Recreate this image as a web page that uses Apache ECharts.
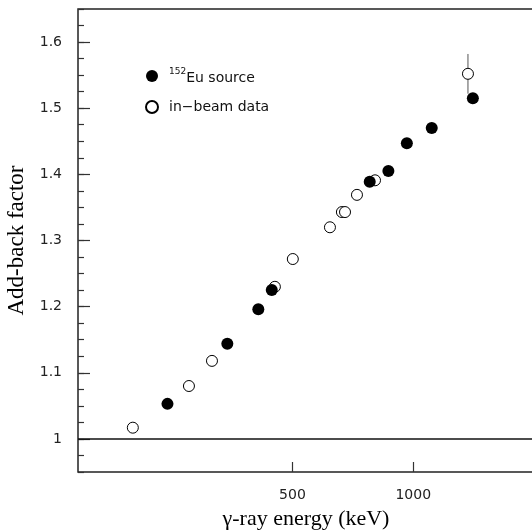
<!DOCTYPE html>
<html>
<head>
<meta charset="utf-8">
<script src="https://cdn.jsdelivr.net/npm/echarts@6/dist/echarts.min.js"></script>
<style>
html, body { margin: 0; padding: 0; background: #fff; }
#main { width: 532px; height: 532px; }
</style>
</head>
<body>
<div id="main"></div>
<script>
// 152Eu source points : energy (keV) and add-back factor
var euEnergy = [244, 344, 411, 444, 779, 867, 964, 1112, 1408];
var euFactor = [1.053, 1.144, 1.196, 1.225, 1.389, 1.405, 1.447, 1.470, 1.515];

// in-beam points
var beamEnergy = [200, 276, 315, 452, 501, 620, 664, 676, 724, 803, 1369];
var beamFactor = [1.017, 1.080, 1.118, 1.230, 1.272, 1.320, 1.343, 1.343, 1.369, 1.391, 1.552];

// error bar (only on the highest in-beam point)
var errEnergy = [1369];
var errLow = [1.522];
var errHigh = [1.582];

var xTicks = [500, 1000];
var yTicks = [1, 1.1, 1.2, 1.3, 1.4, 1.5, 1.6];

var xMin = 146, xMax = 2000;
var yMin = 0.95, yMax = 1.65;

var euName = '152Eu source';
var beamName = 'in\u2212beam data';

function pairs(xs, ys) {
    var out = [];
    for (var i = 0; i < xs.length; i++) {
        out.push([xs[i], ys[i]]);
    }
    return out;
}

var chart = echarts.init(document.getElementById('main'));

var option = {
    animation: false,
    backgroundColor: '#fff',
    grid: {
        left: 78, top: 9, width: 456, height: 463,
        show: true, borderColor: '#222', borderWidth: 1.5,
        containLabel: false, outerBoundsMode: 'none'
    },
    legend: {
        orient: 'vertical',
        left: 140, top: 62,
        itemWidth: 12, itemHeight: 12,
        itemGap: 15,
        selectedMode: false,
        data: [{ name: euName, icon: 'circle' }, { name: beamName, icon: 'circle' }],
        formatter: function (name) {
            if (name === euName) return '{sup|152}{txt|Eu source}';
            return '{pad|' + name + '}';
        },
        textStyle: {
            fontFamily: 'DejaVu Sans', fontSize: 14, color: '#111',
            rich: {
                sup: { fontFamily: 'DejaVu Sans', fontSize: 9, color: '#111', padding: [0, 0, 0, 6], verticalAlign: 'top', lineHeight: 18 },
                txt: { fontFamily: 'DejaVu Sans', fontSize: 14, color: '#111', verticalAlign: 'bottom', lineHeight: 18 },
                pad: { fontFamily: 'DejaVu Sans', fontSize: 14, color: '#111', padding: [0, 0, 0, 6], lineHeight: 18 }
            }
        }
    },
    xAxis: [
        {
            type: 'log', logBase: 10, min: xMin, max: xMax,
            position: 'bottom',
            axisLine: { show: false }, axisTick: { show: false },
            axisLabel: { show: false }, splitLine: { show: false }
        },
        {
            type: 'value', min: Math.log10(xMin), max: Math.log10(xMax),
            position: 'bottom',
            axisLine: { show: false },
            axisTick: { inside: true, length: 10, lineStyle: { color: '#333', width: 1.2 }, customValues: xTicks.map(Math.log10) },
            axisLabel: {
                customValues: xTicks.map(Math.log10),
                formatter: function (v) { return String(Math.round(Math.pow(10, v))); },
                fontFamily: 'DejaVu Sans', fontSize: 14, color: '#222', margin: 16
            },
            splitLine: { show: false },
            name: '\u03b3-ray energy (keV)',
            nameLocation: 'middle', nameGap: 36,
            nameTextStyle: { fontFamily: 'Liberation Serif', fontSize: 22, color: '#000' }
        }
    ],
    yAxis: [
        {
            type: 'value', min: yMin, max: yMax, interval: 0.025,
            position: 'left',
            axisLine: { show: false },
            axisTick: { inside: true, length: 6, lineStyle: { color: '#333', width: 1.2 } },
            axisLabel: { show: false },
            splitLine: { show: false }
        },
        {
            type: 'value', min: yMin, max: yMax,
            position: 'left',
            axisLine: { show: false },
            axisTick: { inside: true, length: 12, lineStyle: { color: '#333', width: 1.2 }, customValues: yTicks },
            axisLabel: {
                customValues: yTicks,
                formatter: function (v) { return String(+v.toFixed(1)); },
                fontFamily: 'DejaVu Sans', fontSize: 14, color: '#222', margin: 16
            },
            splitLine: { show: false },
            name: 'Add-back factor',
            nameLocation: 'middle', nameGap: 46,
            nameTextStyle: { fontFamily: 'Liberation Serif', fontSize: 23, color: '#000' }
        }
    ],
    series: [
        {
            type: 'custom',
            name: 'error',
            xAxisIndex: 0, yAxisIndex: 0,
            silent: true, z: 1,
            encode: { x: 0, y: [1, 2] },
            data: errEnergy.map(function (e, i) { return [e, errLow[i], errHigh[i]]; }),
            renderItem: function (params, api) {
                var lo = api.coord([api.value(0), api.value(1)]);
                var hi = api.coord([api.value(0), api.value(2)]);
                return {
                    type: 'line',
                    shape: { x1: lo[0], y1: lo[1], x2: hi[0], y2: hi[1] },
                    style: { stroke: '#555', lineWidth: 1 }
                };
            }
        },
        {
            type: 'scatter',
            name: beamName,
            xAxisIndex: 0, yAxisIndex: 0,
            symbol: 'circle', symbolSize: 11, z: 3,
            itemStyle: { color: '#fff', borderColor: '#000', borderWidth: 1, opacity: 1 },
            data: pairs(beamEnergy, beamFactor),
            markLine: {
                silent: true, symbol: 'none',
                label: { show: false },
                lineStyle: { color: '#111', width: 1.5, type: 'solid' },
                data: [{ yAxis: 1 }]
            }
        },
        {
            type: 'scatter',
            name: euName,
            xAxisIndex: 0, yAxisIndex: 0,
            symbol: 'circle', symbolSize: 12, z: 4,
            itemStyle: { color: '#000', opacity: 1 },
            data: pairs(euEnergy, euFactor)
        }
    ]
};

chart.setOption(option);
</script>
</body>
</html>
